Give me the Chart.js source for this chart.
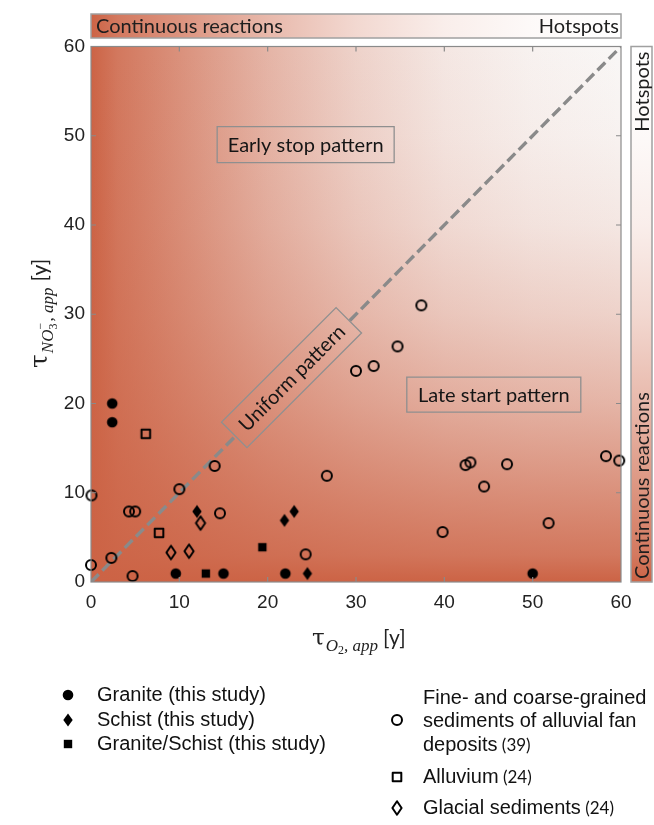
<!DOCTYPE html>
<html><head><meta charset="utf-8">
<script src="https://cdn.jsdelivr.net/npm/chart.js@4.4.0/dist/chart.umd.min.js"></script>
<style>html,body{margin:0;padding:0;background:#fff;}canvas{display:block}</style>
</head><body>
<canvas id="c" width="654" height="825" style="width:654px;height:825px"></canvas>
<script>
// ---------- data ----------
const tickValues = [0, 10, 20, 30, 40, 50, 60];
const graniteX = [2.4, 2.4, 9.6, 15.0, 22.0, 50.0];
const graniteY = [20.0, 17.9, 0.95, 0.95, 0.95, 0.95];
const schistX = [12.0, 21.9, 23.0, 24.5];
const schistY = [7.9, 6.9, 7.9, 0.95];
const granSchistX = [13.0, 19.4];
const granSchistY = [0.95, 3.9];
const fanX = [0.05, 0.0, 2.3, 4.3, 5.0, 4.7, 10.0, 14.0, 14.6, 24.3, 26.7, 30.0, 32.0, 34.7, 37.4, 39.8, 42.4, 42.95, 44.5, 47.1, 51.8, 58.3, 59.8];
const fanY = [9.7, 1.9, 2.7, 7.9, 7.9, 0.67, 10.4, 13.0, 7.7, 3.1, 11.9, 23.65, 24.2, 26.4, 31.0, 5.6, 13.1, 13.4, 10.7, 13.2, 6.6, 14.1, 13.6];
const alluviumX = [6.2, 7.7];
const alluviumY = [16.6, 5.5];
const glacialX = [9.05, 11.1, 12.4];
const glacialY = [3.3, 3.45, 6.6];
const diagonalX = [0, 60];
const diagonalY = [0, 60];
const seriesNames = ['Granite (this study)', 'Schist (this study)', 'Granite/Schist (this study)',
  'Fine- and coarse-grained sediments of alluvial fan deposits (39)', 'Alluvium (24)', 'Glacial sediments (24)'];

const zip = (xs, ys) => xs.map((x, i) => ({x: x, y: ys[i]}));

// ---------- markers ----------
function marker(kind, filled) {
  const s = 20, c = document.createElement('canvas');
  c.width = s; c.height = s;
  const g = c.getContext('2d');
  g.translate(s / 2, s / 2);
  g.fillStyle = '#000'; g.strokeStyle = '#000'; g.lineWidth = 2.0; g.lineJoin = 'round';
  g.beginPath();
  if (kind === 'circle') g.arc(0, 0, filled ? 5.3 : 5.0, 0, Math.PI * 2);
  else if (kind === 'square') { const h = filled ? 4.2 : 4.3; g.rect(-h, -h, 2 * h, 2 * h); }
  else { const w = filled ? 4.7 : 4.6, hh = filled ? 6.5 : 6.8; g.moveTo(0, -hh); g.lineTo(w, 0); g.lineTo(0, hh); g.lineTo(-w, 0); g.closePath(); }
  if (filled) g.fill(); else g.stroke();
  return c;
}
const M = {
  fc: marker('circle', true), fd: marker('diamond', true), fs: marker('square', true),
  oc: marker('circle', false), os: marker('square', false), od: marker('diamond', false)
};

// ---------- colours ----------
const OR = [204, 99, 69];
const fadeStops = [[0, 1], [0.05, 0.86], [0.167, 0.69], [0.333, 0.45], [0.5, 0.25], [0.667, 0.11], [0.833, 0.035], [1, 0]];
function grad(ctx, x0, y0, x1, y1) {
  const g = ctx.createLinearGradient(x0, y0, x1, y1);
  fadeStops.forEach(s => g.addColorStop(s[0], `rgba(${OR[0]},${OR[1]},${OR[2]},${s[1]})`));
  return g;
}
function paintPlotBg(ctx, a) {
  ctx.fillStyle = '#f9f7f6';
  ctx.fillRect(a.left, a.top, a.right - a.left, a.bottom - a.top);
  ctx.fillStyle = grad(ctx, a.left, 0, a.right, 0);
  ctx.fillRect(a.left, a.top, a.right - a.left, a.bottom - a.top);
  ctx.fillStyle = grad(ctx, 0, a.bottom, 0, a.top);
  ctx.fillRect(a.left, a.top, a.right - a.left, a.bottom - a.top);
}

const annotations = [
  {text: 'Early stop pattern', x: 24.3, y: 49.0, w: 177, h: 36, rot: 0},
  {text: 'Late start pattern', x: 45.6, y: 21.0, w: 174, h: 35, rot: 0},
  {text: 'Uniform pattern', x: 22.7, y: 22.9, w: 162, h: 36, rot: -Math.PI / 4}
];

const decor = {
  id: 'decor',
  beforeDatasetsDraw(chart) {
    const ctx = chart.ctx, a = chart.chartArea;
    ctx.save();
    paintPlotBg(ctx, a);
    // top bar
    const tb = {l: a.left, r: a.right, t: 14, b: 38};
    ctx.fillStyle = '#fff'; ctx.fillRect(tb.l, tb.t, tb.r - tb.l, tb.b - tb.t);
    ctx.fillStyle = grad(ctx, tb.l, 0, tb.r, 0); ctx.fillRect(tb.l, tb.t, tb.r - tb.l, tb.b - tb.t);
    ctx.strokeStyle = '#a0a0a0'; ctx.lineWidth = 1.5; ctx.strokeRect(tb.l, tb.t, tb.r - tb.l, tb.b - tb.t);
    ctx.fillStyle = '#1e1e1e'; ctx.font = '20px Lato'; ctx.textBaseline = 'middle';
    ctx.textAlign = 'left'; ctx.fillText('Continuous reactions', tb.l + 5, 27);
    ctx.textAlign = 'right'; ctx.fillText('Hotspots', tb.r - 2, 27);
    // right bar
    const rb = {l: 631, r: 652, t: a.top, b: a.bottom};
    ctx.fillStyle = '#fff'; ctx.fillRect(rb.l, rb.t, rb.r - rb.l, rb.b - rb.t);
    ctx.fillStyle = grad(ctx, 0, rb.b, 0, rb.t); ctx.fillRect(rb.l, rb.t, rb.r - rb.l, rb.b - rb.t);
    ctx.strokeStyle = '#a0a0a0'; ctx.lineWidth = 1.5; ctx.strokeRect(rb.l, rb.t, rb.r - rb.l, rb.b - rb.t);
    ctx.fillStyle = '#1e1e1e';
    ctx.save(); ctx.translate((rb.l + rb.r) / 2 + 1, rb.t + 5); ctx.rotate(-Math.PI / 2);
    ctx.textAlign = 'right'; ctx.fillText('Hotspots', 0, 0); ctx.restore();
    ctx.save(); ctx.translate((rb.l + rb.r) / 2 + 1, rb.b - 3); ctx.rotate(-Math.PI / 2);
    ctx.textAlign = 'left'; ctx.fillText('Continuous reactions', 0, 0); ctx.restore();
    ctx.restore();
  },
  afterDatasetsDraw(chart) {
    const ctx = chart.ctx, a = chart.chartArea, xs = chart.scales.x, ys = chart.scales.y;
    ctx.save();
    // annotation boxes
    annotations.forEach(an => {
      const cx = xs.getPixelForValue(an.x), cy = ys.getPixelForValue(an.y);
      ctx.save();
      ctx.translate(cx, cy); ctx.rotate(an.rot);
      ctx.beginPath(); ctx.rect(-an.w / 2, -an.h / 2, an.w, an.h);
      if (an.rot !== 0) {
        ctx.save(); ctx.clip(); ctx.setTransform(1, 0, 0, 1, 0, 0);
        paintPlotBg(ctx, a); ctx.restore();
      }
      ctx.strokeStyle = '#8f8f8f'; ctx.lineWidth = 1.3; ctx.stroke();
      ctx.fillStyle = '#151515'; ctx.font = '20px Lato'; ctx.textAlign = 'center'; ctx.textBaseline = 'middle';
      ctx.fillText(an.text, 0, 1);
      ctx.restore();
    });
    // frame
    ctx.strokeStyle = '#8a8a8a'; ctx.lineWidth = 1.2;
    ctx.strokeRect(a.left, a.top, a.right - a.left, a.bottom - a.top);
    // inward ticks
    ctx.beginPath();
    tickValues.slice(1, -1).forEach(v => {
      const px = xs.getPixelForValue(v), py = ys.getPixelForValue(v);
      ctx.moveTo(px, a.bottom); ctx.lineTo(px, a.bottom - 5);
      ctx.moveTo(px, a.top); ctx.lineTo(px, a.top + 5);
      ctx.moveTo(a.left, py); ctx.lineTo(a.left + 5, py);
      ctx.moveTo(a.right, py); ctx.lineTo(a.right - 5, py);
    });
    ctx.stroke();
    // axis titles
    ctx.fillStyle = '#222'; ctx.textBaseline = 'alphabetic'; ctx.textAlign = 'left';
    let x = 312, y = 645;
    ctx.font = '23px "DejaVu Serif"'; ctx.fillText('τ', x, y); x += ctx.measureText('τ').width + 1;
    ctx.font = 'italic 17px "Liberation Serif"'; ctx.fillText('O', x, y + 6); x += ctx.measureText('O').width;
    ctx.font = '12px "Liberation Serif"'; ctx.fillText('2', x, y + 9); x += ctx.measureText('2').width;
    ctx.font = 'italic 17px "Liberation Serif"'; ctx.fillText(', app', x, y + 6); x += ctx.measureText(', app').width + 5;
    ctx.font = '21px Lato'; ctx.fillText('[y]', x, y);
    // y title rotated
    ctx.save(); ctx.translate(47, 368); ctx.rotate(-Math.PI / 2);
    x = 0; y = 0;
    ctx.font = '25px "DejaVu Serif"'; ctx.fillText('τ', x, y); x += ctx.measureText('τ').width + 1;
    ctx.font = 'italic 17px "Liberation Serif"'; ctx.fillText('NO', x, y + 6); x += ctx.measureText('NO').width;
    ctx.font = '12px "Liberation Serif"'; ctx.fillText('3', x, y + 10); ctx.fillText('−', x, y - 3); x += ctx.measureText('3').width + 2;
    ctx.font = 'italic 17px "Liberation Serif"'; ctx.fillText(', app', x, y + 6); x += ctx.measureText(', app').width + 6;
    ctx.font = '21px Lato'; ctx.fillText('[y]', x, y);
    ctx.restore();
    // legend
    const leg = [
      {m: M.fc, mx: 68, lines: [[seriesNames[0]]], y: 695},
      {m: M.fd, mx: 68, lines: [[seriesNames[1]]], y: 720},
      {m: M.fs, mx: 68, lines: [[seriesNames[2]]], y: 744},
      {m: M.oc, mx: 397, lines: [['Fine- and coarse-grained'], ['sediments of alluvial fan'], ['deposits', ' (39)']], y: 698, my: 720},
      {m: M.os, mx: 397, lines: [['Alluvium', ' (24)']], y: 777},
      {m: M.od, mx: 397, lines: [['Glacial sediments', ' (24)']], y: 808}
    ];
    ctx.textBaseline = 'middle'; ctx.fillStyle = '#111';
    leg.forEach(L => {
      const my = L.my || L.y;
      ctx.drawImage(L.m, L.mx - L.m.width / 2, my - L.m.height / 2);
      const tx = L.mx < 200 ? 97 : 423;
      L.lines.forEach((ln, i) => {
        const yy = L.y + i * 23.5;
        ctx.font = '20px "Liberation Sans"';
        ctx.fillText(ln[0], tx, yy);
        if (ln[1]) {
          const w = ctx.measureText(ln[0]).width;
          ctx.font = '17px Lato';
          ctx.fillText(ln[1], tx + w, yy + 1);
        }
      });
    });
    ctx.restore();
  }
};

function ds(label, xs, ys, img) {
  return {type: 'scatter', label: label, data: zip(xs, ys), pointStyle: img, pointRadius: 6,
    pointHoverRadius: 6, clip: false, order: 1};
}

new Chart(document.getElementById('c'), {
  type: 'scatter',
  data: {
    datasets: [
      ds(seriesNames[0], graniteX, graniteY, M.fc),
      ds(seriesNames[1], schistX, schistY, M.fd),
      ds(seriesNames[2], granSchistX, granSchistY, M.fs),
      ds(seriesNames[3], fanX, fanY, M.oc),
      ds(seriesNames[4], alluviumX, alluviumY, M.os),
      ds(seriesNames[5], glacialX, glacialY, M.od),
      {type: 'line', label: 'diagonal', data: zip(diagonalX, diagonalY), borderColor: '#8a8a8a',
        borderWidth: 3.4, borderDash: [11, 5], pointRadius: 0, fill: false, order: 10}
    ]
  },
  options: {
    responsive: false, animation: false, devicePixelRatio: 1,
    layout: {padding: {left: 0, right: 33, top: 46.5, bottom: 213}},
    plugins: {legend: {display: false}, tooltip: {enabled: false}},
    scales: {
      x: {type: 'linear', min: 0, max: 60, grid: {display: false, drawTicks: false}, border: {display: false},
        afterBuildTicks: s => { s.ticks = tickValues.map(v => ({value: v})); },
        afterFit: s => { s.height = 30; },
        ticks: {font: {family: 'Liberation Sans', size: 19}, color: '#222', padding: 9, maxRotation: 0}},
      y: {type: 'linear', min: 0, max: 60, grid: {display: false, drawTicks: false}, border: {display: false},
        afterBuildTicks: s => { s.ticks = tickValues.map(v => ({value: v})); },
        afterFit: s => { s.width = 91; },
        ticks: {font: {family: 'Liberation Sans', size: 19}, color: '#222', padding: 6}}
    }
  },
  plugins: [decor]
});
</script>
</body></html>
